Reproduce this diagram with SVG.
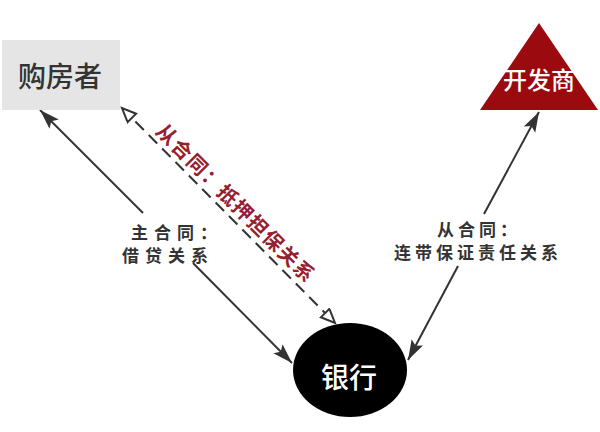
<svg xmlns="http://www.w3.org/2000/svg" width="600" height="432" viewBox="0 0 600 432">
<style>
.cjk{font-family:"Noto Sans CJK SC","Noto Sans",sans-serif}
.lbl{font-size:17px;font-weight:700;fill:#333}
.solid{stroke:#333;stroke-width:2;fill:none}
.dash{stroke:#333;stroke-width:2;fill:none;stroke-dasharray:12 7}
</style>
<defs>
<marker id="arrow" markerUnits="userSpaceOnUse" markerWidth="22" markerHeight="14" refX="20" refY="6.5" orient="auto" viewBox="0 0 22 14">
<path d="M0,0 L20,6.5 L0,13 L4,6.5 z" fill="#333"/>
</marker>
<marker id="hollow" markerUnits="userSpaceOnUse" markerWidth="18" markerHeight="16" refX="15" refY="7" orient="auto-start-reverse" viewBox="0 0 18 16">
<path d="M1,1 L15,7 L1,13 z" fill="#fff" stroke="#333" stroke-width="2" stroke-linejoin="miter"/>
</marker>
</defs>
<rect width="600" height="432" fill="#fff"/>
<g id="connectors">
<line class="solid" x1="143" y1="213" x2="40" y2="110" marker-end="url(#arrow)"/>
<line class="solid" x1="193" y1="263" x2="292" y2="363" marker-end="url(#arrow)"/>
<line class="solid" x1="484" y1="214" x2="539" y2="112" marker-end="url(#arrow)"/>
<line class="solid" x1="458" y1="266" x2="408" y2="360" marker-end="url(#arrow)"/>
<line class="dash" x1="122" y1="108" x2="335" y2="323" marker-start="url(#hollow)" marker-end="url(#hollow)"/>
<text class="cjk" transform="translate(230.6,208.4) rotate(45)" text-anchor="middle" font-size="20" font-weight="700" fill="#95202f" letter-spacing="1.5">从合同：抵押担保关系</text>
<text class="cjk lbl" x="131" y="239" letter-spacing="6">主合同：</text>
<text class="cjk lbl" x="122" y="262" letter-spacing="6">借贷关系</text>
<text class="cjk lbl" x="437" y="236" letter-spacing="4">从合同：</text>
<text class="cjk lbl" x="394" y="259" letter-spacing="4">连带保证责任关系</text>
</g>
<g id="buyer">
<rect x="2" y="40" width="118" height="70" fill="#e5e5e5"/>
<text class="cjk" x="60" y="87" text-anchor="middle" font-size="28" font-weight="500" fill="#333">购房者</text>
</g>
<g id="developer">
<polygon points="539,23 480,110 598,110" fill="#9a0a0e"/>
<text class="cjk" x="539" y="89" text-anchor="middle" font-size="24" font-weight="500" fill="#fff">开发商</text>
</g>
<g id="bank">
<ellipse cx="350" cy="370" rx="57" ry="47" fill="#000"/>
<text class="cjk" x="349" y="388" text-anchor="middle" font-size="28" font-weight="500" fill="#fff">银行</text>
</g>
</svg>
